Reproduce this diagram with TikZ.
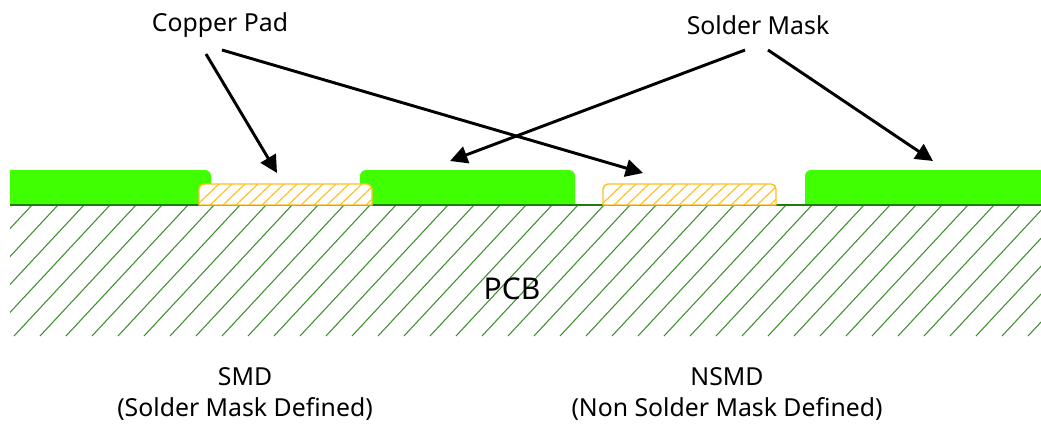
\documentclass[tikz,border=0pt]{standalone}
\usepackage{fontspec}
\setmainfont{Noto Sans}
\usetikzlibrary{arrows.meta}
\definecolor{maskgreen}{HTML}{40FF00}
\definecolor{hatchgreen}{HTML}{3F8F2F}
\definecolor{basegreen}{HTML}{1F7A10}
\definecolor{padorange}{HTML}{FFC020}
\tikzset{
  x=0.75pt,y=-0.75pt,
  mask/.style={fill=maskgreen,draw=none,rounded corners=4.5pt},
  hatchpcb/.style={draw=hatchgreen,line width=0.8pt},
  hatchpad/.style={draw=padorange,line width=0.85pt},
  callout/.style={draw=black,line width=2.2pt,-{Triangle[length=13pt,width=13pt]}},
  lbl/.style={font=\fontsize{18.6}{23}\selectfont,align=center,inner sep=0pt,text=black},
  bigl/.style={font=\fontsize{22.5}{26}\selectfont,inner sep=0pt,text=black}
}
\newcommand{\padpath}[1]{[rounded corners=3.75pt] (#1,205) [sharp corners] -- (#1,205) [rounded corners=3.75pt] -- (#1,184) -- ({#1+173},184) [sharp corners] -- ({#1+173},205) -- cycle}
\begin{document}
\begin{tikzpicture}
\useasboundingbox (0,0) rectangle (1041,426);
% PCB hatching
\begin{scope}
\clip (10,205) rectangle (1041,336);
\foreach \k in {0,...,46}{
  \draw[hatchpcb] ({6+26*\k},205) -- ({6+26*\k-122},336);
}
\end{scope}
% solder mask
\fill[mask] (10,205) [sharp corners] -- (10,170) [rounded corners=4.5pt] -- (211,170) [sharp corners] -- (211,205) -- cycle;
\fill[mask] (360,205) [rounded corners=4.5pt] -- (360,170) -- (575,170) [sharp corners] -- (575,205) -- cycle;
\fill[mask] (805,205) [rounded corners=4.5pt] -- (805,170) [sharp corners] -- (1041,170) -- (1041,205) -- cycle;
\draw[draw=basegreen,line width=0.8pt] (10,205) -- (1041,205);
% pads
\foreach \px in {199,603}{
  \fill[white] \padpath{\px};
  \begin{scope}
    \clip \padpath{\px};
    \foreach \k in {0,...,15}{
      \draw[hatchpad] ({\px-2+13*\k},205) -- ({\px-2+13*\k+22},184);
    }
  \end{scope}
  \draw[draw=padorange,line width=1.1pt] \padpath{\px};
}
% labels
\node[lbl] (copper) at (220,25) {Copper Pad};
\node[lbl] (mask) at (758,25) {Solder Mask};
\node[bigl] (pcb) at (512,289) {PCB};
\node[lbl] (smd) at (245,394) {SMD\\(Solder Mask Defined)};
\node[lbl] (nsmd) at (727,394) {NSMD\\(Non Solder Mask Defined)};
% connector ends
\coordinate (a1s) at (206,54);
\coordinate (a1e) at (277,173);
\coordinate (a2s) at (222,50);
\coordinate (a2e) at (643,173);
\coordinate (a3s) at (745,50);
\coordinate (a3e) at (450,161);
\coordinate (a4s) at (768,50);
\coordinate (a4e) at (933,161);
\draw[callout] (a1s) -- (a1e);
\draw[callout] (a2s) -- (a2e);
\draw[callout] (a3s) -- (a3e);
\draw[callout] (a4s) -- (a4e);
\end{tikzpicture}
\end{document}
